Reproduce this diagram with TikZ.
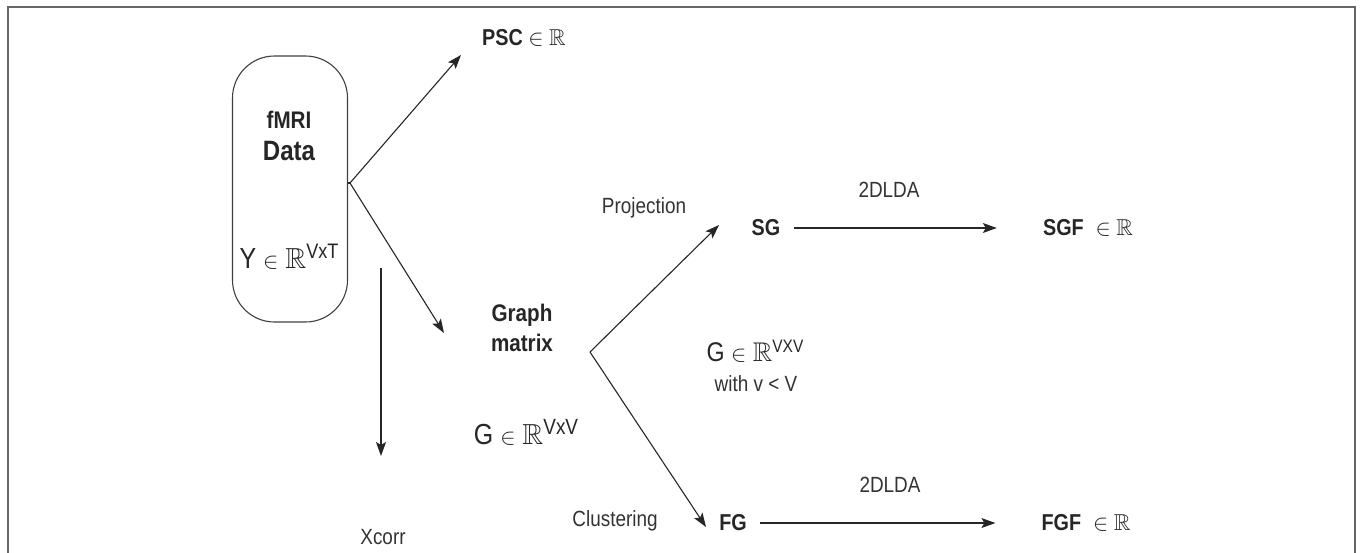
\documentclass[tikz,border=0pt]{standalone}
\usepackage{amssymb}
\usepackage{graphicx}
\usepackage{fontspec}
\setmainfont{Liberation Sans}[FakeStretch=0.86]
\usetikzlibrary{arrows.meta}
\newcommand{\smin}{\scalebox{0.92}{$\in$}}
\tikzset{
  conn/.style={line width=1.1pt, black!85, -{Stealth[length=14pt,width=10pt,inset=3pt]}},
  seg/.style={line width=1.1pt, black!85},
  lab/.style={inner sep=0pt, font=\fontsize{22}{24}\selectfont, text=black!80},
  bold/.style={inner sep=0pt, font=\fontsize{23}{26}\selectfont\bfseries, text=black!85},
  big/.style={inner sep=0pt, text=black!85},
}
\begin{document}
\begin{tikzpicture}[x=1pt,y=-1pt]
\useasboundingbox (0,0) rectangle (1360,552);
\draw[line width=2pt, black!60] (8,570) -- (8,6.5) -- (1354.5,6.5) -- (1354.5,570);
% data box
\node[draw, line width=1.1pt, black!75, rounded corners=42pt, minimum width=115pt, minimum height=266pt, inner sep=0pt] (data) at (290,189) {};
\node[bold, font=\fontsize{24}{26}\selectfont\bfseries] (fmri) at (289,120) {fMRI};
\node[bold, font=\fontsize{28}{30}\selectfont\bfseries] (datat) at (289,151) {Data};
\node[big, font=\fontsize{29}{30}\selectfont] (yvt) at (289,257) {Y \smin\ $\mathbb{R}$\raisebox{10pt}{\fontsize{21}{21}\selectfont VxT}};
\coordinate (b1) at (350,183);
% PSC
\node[bold] (psc) at (524,38) {PSC \smin\ $\mathbb{R}$};
\coordinate (psctip) at (461,55);
\draw[seg] (data.east |- b1) -- (b1);
\draw[conn] (b1) -- (psctip);
% graph matrix
\node[bold, align=center, font=\fontsize{24}{30}\selectfont\bfseries] (graph) at (522,328) {Graph\\matrix};
\coordinate (gtip) at (444,333);
\draw[conn] (b1) -- (gtip);
\node[big, font=\fontsize{29}{30}\selectfont] (gvv) at (526,432) {G \smin\ $\mathbb{R}$\raisebox{10pt}{\fontsize{22}{22}\selectfont VxV}};
% xcorr
\coordinate (xtop) at (381,268);
\coordinate (xtip) at (381,456);
\draw[conn] (xtop) -- (xtip);
\node[lab] (xcorr) at (383,537) {Xcorr};
% second branch
\coordinate (b2) at (590,352);
\coordinate (sgtip) at (719,225);
\coordinate (fgtip) at (706,527);
\draw[conn] (b2) -- (sgtip);
\draw[conn] (b2) -- (fgtip);
\node[lab] (proj) at (644,208) {Projection};
\node[lab] (clus) at (615,521) {Clustering};
\node[big, font=\fontsize{27}{30}\selectfont] (gsmall) at (755,351) {G \smin\ $\mathbb{R}$\raisebox{9pt}{\fontsize{18}{18}\selectfont VXV}};
\node[lab, font=\fontsize{22}{24}\selectfont] (withv) at (756,384) {with v < V};
% SG row
\node[bold] (sg) at (766,228) {SG};
\node[bold] (sgf) at (1088,228) {SGF\; \smin\ $\mathbb{R}$};
\draw[conn] ([xshift=14pt]sg.east) -- ([xshift=-46pt]sgf.west);
\node[lab] (l1) at (889,190) {2DLDA};
% FG row
\node[bold] (fg) at (733,523) {FG};
\node[bold] (fgf) at (1086,523) {FGF\; \smin\ $\mathbb{R}$};
\draw[conn] ([xshift=13pt]fg.east) -- ([xshift=-46pt]fgf.west);
\node[lab] (l2) at (890,485) {2DLDA};
\end{tikzpicture}
\end{document}
